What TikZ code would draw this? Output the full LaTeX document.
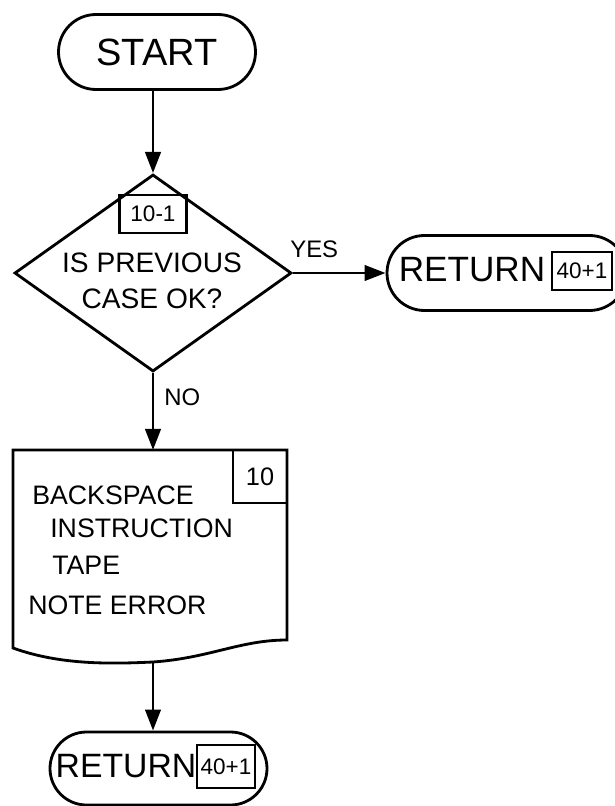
\documentclass[tikz,border=0pt]{standalone}
\usepackage{fontspec}
\setmainfont{Liberation Sans}
\usetikzlibrary{shapes.geometric,shapes.misc,arrows.meta}

\newcommand{\px}{0.025cm}
\tikzset{
  every node/.style={inner sep=0pt},
  term/.style={draw, rounded rectangle, line width=2pt},
  decision/.style={draw, diamond, aspect=1.4, line width=2pt},
  tag/.style={draw, rectangle, line width=1.7pt},
  flow/.style={-{Triangle[length=15pt,width=11pt]}, line width=2pt},
  big/.style={font=\fontsize{25}{30}\selectfont},
  mid/.style={font=\fontsize{19}{25}\selectfont},
  small/.style={font=\fontsize{16}{18}\selectfont}
}

\begin{document}
\begin{tikzpicture}[x=\px, y=-\px]
\useasboundingbox (0,0) rectangle (615,806);

\node[term, font=\fontsize{27}{30}\selectfont, minimum width=197*\px, minimum height=75*\px] (start) at (157,52) {START};

\node[decision, minimum width=277*\px, minimum height=197*\px] (chk) at (153,273) {};
\node[tag, small, minimum width=67*\px, minimum height=38*\px] (chkno) at (153,214) {10-1};
\node[align=center, font=\fontsize{20}{26}\selectfont] (chktxt) at (152,281) {IS PREVIOUS\\CASE OK?};

\node[term, minimum width=240*\px, minimum height=75*\px] (ret1) at (507,273) {};
\node[big] (ret1txt) at (472,270) {RETURN};
\node[tag, small, minimum width=60*\px, minimum height=38*\px] (ret1no) at (582,271) {40+1};

\coordinate (proctop) at (153,450);
\coordinate (procbot) at (153,662);
\draw[line width=2pt] (13,648) -- (13,450) -- (287,450) -- (287,640)
  .. controls (240,640) and (210,658) .. (procbot)
  .. controls (110,664) and (60,665) .. cycle;
\node[tag, font=\fontsize{18}{20}\selectfont, minimum width=54*\px, minimum height=53*\px] (procno) at (260,476.5) {10};
\foreach \t/\x/\y/\n in {BACKSPACE/32/495/l1, INSTRUCTION/50/528/l2, TAPE/52/565/l3, NOTE ERROR/28/605/l4}
  \node[mid, anchor=west] (\n) at (\x,\y) {\t};

\node[term, minimum width=217*\px, minimum height=73*\px] (ret2) at (158.5,768.5) {};
\node[font=\fontsize{24}{28}\selectfont] (ret2txt) at (126,766) {RETURN};
\node[tag, small, minimum width=58*\px, minimum height=43*\px] (ret2no) at (226,766.5) {40+1};

\draw[flow] (chk.north |- start.south) -- (chk.north);
\draw[flow] (chk.east) -- node[pos=0.23, above=10pt, font=\fontsize{17}{19}\selectfont] (yes) {YES} (ret1.west);
\draw[flow] (chk.south) -- node[pos=0.32, right=7pt, font=\fontsize{17}{19}\selectfont] (no) {NO} (proctop);
\draw[flow] (procbot) -- (procbot |- ret2.north);

\end{tikzpicture}
\end{document}
